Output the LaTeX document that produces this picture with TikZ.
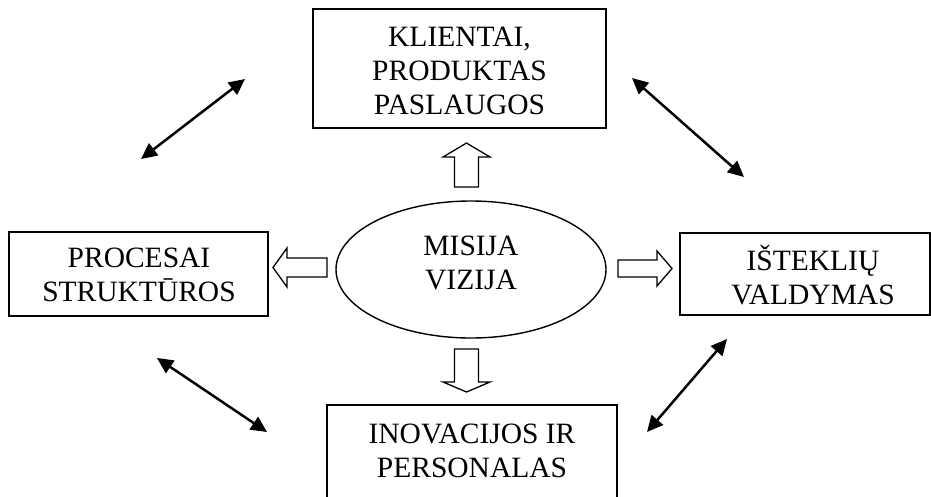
\documentclass[tikz,border=0pt]{standalone}
\usepackage{fontspec}
\setmainfont{Liberation Serif}
\usetikzlibrary{arrows.meta,shapes.geometric}
\tikzset{
  boxnode/.style={draw, line width=1.6pt, inner sep=0pt},
  lbl/.style={align=center, inner sep=0pt, font=\fontsize{29.5}{34}\selectfont},
  ellnode/.style={draw, ellipse, line width=1.4pt, inner sep=0pt},
  hollow/.style={draw, line width=1.3pt, fill=white, line join=miter},
  dbl/.style={line width=2.5pt, {Triangle[length=16pt,width=15pt]}-{Triangle[length=16pt,width=15pt]}}
}
\begin{document}
\begin{tikzpicture}[x=1pt,y=-1pt]
\useasboundingbox (0,0) rectangle (931,496);
\clip (0,0) rectangle (931,496);
% boxes
\node[boxnode, minimum width=293pt, minimum height=119pt] (top) at (459.5,68.5) {};
\node[lbl] (toptext) at (459.5,70.5) {KLIENTAI,\\PRODUKTAS\\PASLAUGOS};
\node[boxnode, minimum width=259pt, minimum height=84pt] (left) at (138.5,274) {};
\node[lbl] (lefttext) at (139,275) {PROCESAI\\STRUKTŪROS};
\node[boxnode, minimum width=250pt, minimum height=82pt] (right) at (805,274) {};
\node[lbl] (righttext) at (813,275) {IŠTEKLIŲ\\VALDYMAS};
\node[boxnode, minimum width=290pt, minimum height=110pt] (bottom) at (472,460) {};
\node[lbl] (bottomtext) at (472,451) {INOVACIJOS IR\\PERSONALAS};
% ellipse
\node[ellnode, minimum width=270pt, minimum height=137pt] (mis) at (471,269.5) {};
\node[lbl] (mistext) at (471,263) {MISIJA\\VIZIJA};
% hollow arrows
\draw[hollow] (454.5,187) -- (454.5,157) -- (443,157) -- (466.5,143) -- (490,157) -- (478.5,157) -- (478.5,187) -- cycle;
\draw[hollow] (454.5,349) -- (454.5,382) -- (443,382) -- (466.5,392) -- (490,382) -- (478.5,382) -- (478.5,349) -- cycle;
\draw[hollow] (327,258) -- (287,258) -- (287,248) -- (273,267.5) -- (287,287) -- (287,277) -- (327,277) -- cycle;
\draw[hollow] (618,260) -- (657,260) -- (657,251) -- (672,268.5) -- (657,286) -- (657,277) -- (618,277) -- cycle;
% double arrows
\coordinate (tl1) at (141,159);
\coordinate (tl2) at (245,79);
\coordinate (tr1) at (632,78);
\coordinate (tr2) at (744,177);
\coordinate (bl1) at (157,358);
\coordinate (bl2) at (267,432);
\coordinate (br1) at (647,432);
\coordinate (br2) at (727,339);
\draw[dbl] (tl1) -- (tl2);
\draw[dbl] (tr1) -- (tr2);
\draw[dbl] (bl1) -- (bl2);
\draw[dbl] (br1) -- (br2);
\end{tikzpicture}
\end{document}
